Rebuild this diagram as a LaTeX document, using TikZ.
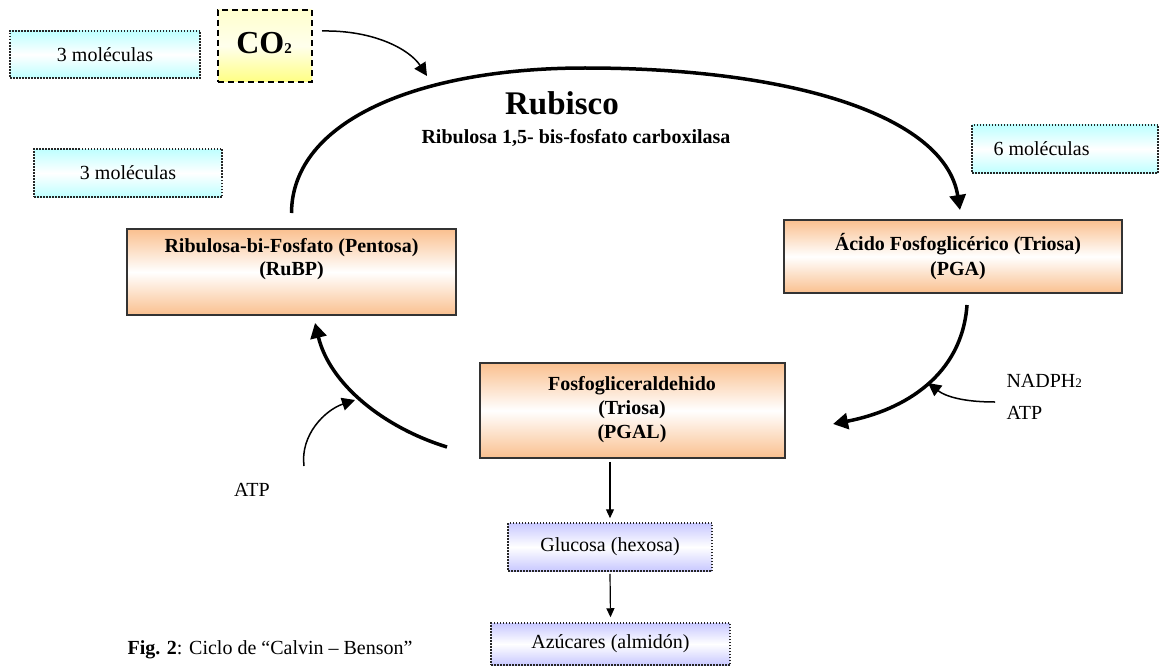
\documentclass[tikz,border=0pt]{standalone}
\usepackage{fontspec}
\setmainfont{Liberation Serif}
\usetikzlibrary{arrows.meta}

\definecolor{naranja}{RGB}{250,192,143}
\definecolor{celeste}{RGB}{190,255,255}
\definecolor{lila}{RGB}{200,200,255}
\definecolor{amarillo}{RGB}{255,255,130}

\begin{document}
\begin{tikzpicture}[x=1pt, y=-1pt,
		every node/.style={font=\fontsize{20}{23}\selectfont},
		caja/.style={draw=black!80, line width=1.5pt, top color=naranja, bottom color=naranja, middle color=white},
		moles/.style={draw=black!85, line width=1.5pt, dash pattern=on 1.5pt off 1.5pt, top color=celeste, bottom color=celeste, middle color=white},
		azul/.style={draw=black!85, line width=1.5pt, dash pattern=on 1.5pt off 1.5pt, top color=lila, bottom color=lila, middle color=white},
		ciclo/.style={line width=3.5pt, -{Triangle[length=15pt, width=16pt]}},
		fina/.style={line width=1.5pt, -{Triangle[length=13pt, width=13pt]}},
		baja/.style={line width=1.2pt, -{Triangle[length=9pt, width=8pt]}}]
		\useasboundingbox (0,0) rectangle (1161,666);
		% cajas
		\node[moles, minimum width=190, minimum height=47] (mol1) at (105,54.5) {3 moléculas};
		\node[draw, line width=1.6pt, dash pattern=on 6pt off 4pt, top color=amarillo!40, bottom color=amarillo, middle color=amarillo!15, minimum width=94, minimum height=72] (co2) at (265,46) {};
		\node[font=\fontsize{32}{34}\selectfont\bfseries] (tco2) at (264,43) {CO{\fontsize{15}{15}\selectfont 2}};
		\node[moles, minimum width=188, minimum height=48] (mol2) at (128,173) {3 moléculas};
		\node[moles, minimum width=186, minimum height=48] (mol3) at (1065,149) {};
		\node[anchor=west] (tmol3) at (990,149) {6 moléculas};
		\node[caja, minimum width=329, minimum height=86] (rubp) at (291.5,272) {};
		\node[font=\fontsize{20}{23}\selectfont\bfseries, align=center] (trubp) at (291.5,259) {Ribulosa-bi-Fosfato (Pentosa)\\(RuBP)};
		\node[caja, minimum width=338, minimum height=73] (pga) at (953,256.5) {};
		\node[font=\fontsize{20}{25}\selectfont\bfseries, align=center] (tpga) at (958,257) {Ácido Fosfoglicérico (Triosa)\\(PGA)};
		\node[caja, minimum width=305, minimum height=95] (pgal) at (632.5,410.5) {};
		\node[font=\fontsize{20}{24}\selectfont\bfseries, align=center] (tpgal) at (632,410) {Fosfogliceraldehido\\(Triosa)\\(PGAL)};
		\node[azul, minimum width=204, minimum height=48] (glu) at (610,547) {Glucosa (hexosa)};
		\node[azul, minimum width=239, minimum height=42] (azu) at (610.5,644) {Azúcares (almidón)};
		% textos
		\node[font=\fontsize{33}{36}\selectfont\bfseries] (rubisco) at (562,103) {Rubisco};
		\node[font=\fontsize{20}{23}\selectfont\bfseries] (enzima) at (576,138) {Ribulosa 1,5- bis-fosfato carboxilasa};
		\node[anchor=west] (nadph) at (1003,381) {NADPH{\fontsize{13}{13}\selectfont 2}};
		\node[anchor=west] (atp1) at (1003,413) {ATP};
		\node (atp2) at (252,490) {ATP};
		\node[anchor=west] (fig) at (124,650) {\textbf{Fig. 2}: Ciclo de “Calvin – Benson”};
		% extremos de las flechas
		\coordinate (a1) at (291.5,213);
		\coordinate (a2) at (960,210);
		\coordinate (a3) at (967,305);
		\coordinate (a4) at (833,424);
		\coordinate (a5) at (447,447);
		\coordinate (a6) at (315,323);
		\coordinate (e1) at (322,31);
		\coordinate (f1) at (427,76);
		\coordinate (e2) at (995,402);
		\coordinate (f2) at (928,383);
		\coordinate (e3) at (304,466);
		\coordinate (f3) at (355,400);
		% ciclo
		\draw[ciclo] (a1) .. controls (292,120) and (420,68) .. (585,68) .. controls (790,68) and (945,115) .. (a2);
		\draw[ciclo] (a3) .. controls (962,375) and (905,410) .. (a4);
		\draw[ciclo] (a5) .. controls (385,428) and (330,385) .. (a6);
		\draw[fina] (e1) .. controls (375,30) and (410,50) .. (f1);
		\draw[fina] (e2) .. controls (962,402) and (945,396) .. (f2);
		\draw[fina] (e3) .. controls (300,435) and (325,410) .. (f3);
		\draw[baja] ([yshift=-3pt]glu.north |- pgal.south) -- ([yshift=4pt]glu.north);
		\draw[baja] ([yshift=-2pt]glu.south) -- ([yshift=5pt]azu.north);
	\end{tikzpicture}
\end{document}
